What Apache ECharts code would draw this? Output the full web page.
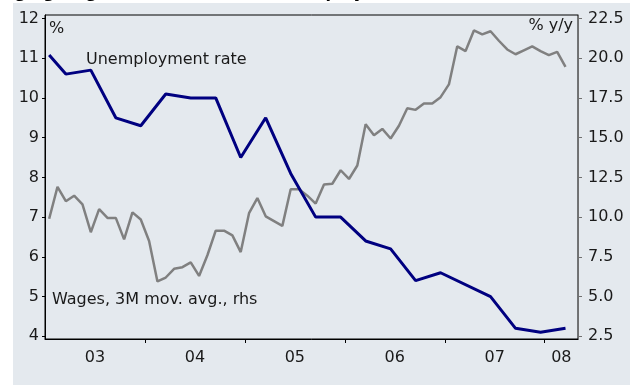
<!DOCTYPE html>
<html>
<head>
<meta charset="utf-8">
<script src="https://cdn.jsdelivr.net/npm/echarts@6/dist/echarts.min.js"></script>
<style>
  html, body { margin: 0; padding: 0; background: #ffffff; }
  #chart { width: 630px; height: 385px; }
</style>
</head>
<body>
<div id="chart"></div>
<script>
// Wages, 3M moving average, % y/y — monthly from Jan 2003 (right axis)
const wageValues = [
  9.9, 11.9, 11.0, 11.35, 10.8, 9.05, 10.5, 9.95, 9.95, 8.6,
  10.3, 9.85, 8.5, 5.95, 6.2, 6.75, 6.85, 7.15, 6.3, 7.6,
  9.15, 9.15, 8.85, 7.8, 10.25, 11.2, 10.05, 9.75, 9.45, 11.75,
  11.75, 11.35, 10.85, 12.05, 12.1, 12.95, 12.4, 13.25, 15.85, 15.15,
  15.55, 14.95, 15.75, 16.85, 16.75, 17.15, 17.15, 17.55, 18.35, 20.75,
  20.45, 21.75, 21.5, 21.7, 21.1, 20.55, 20.25, 20.5, 20.75, 20.45,
  20.2, 20.4, 19.45
];

// Unemployment rate, % — month index counted from Jan 2003
const unempMonths = [0, 2, 5, 8, 11, 14, 17, 20, 23, 26, 29, 32, 35, 38, 41, 44, 47, 53, 56, 59, 62];
const unempRate   = [11.08, 10.6, 10.7, 9.5, 9.3, 10.1, 10.0, 10.0, 8.5, 9.5, 8.1, 7.0, 7.0, 6.4, 6.2, 5.4, 5.6, 5.0, 4.2, 4.1, 4.2];

// Axis ticks and labels
const yearStarts   = [12, 24, 36, 48, 60];
const yearLabelPos = [6, 18, 30, 42, 54, 62];
const yearLabels   = ['03', '04', '05', '06', '07', '08'];
const leftTicks    = [4, 5, 6, 7, 8, 9, 10, 11, 12];
const rightTicks   = [2.5, 5, 7.5, 10, 12.5, 15, 17.5, 20, 22.5];

const FONT = '"DejaVu Sans", Verdana, sans-serif';
const chart = echarts.init(document.getElementById('chart'), null, { renderer: 'canvas' });

const option = {
  animation: false,
  backgroundColor: '#ffffff',
  textStyle: { fontFamily: FONT },
  grid: {
    left: 45, right: 52, top: 15, bottom: 46,
    show: true, borderColor: '#000000', borderWidth: 1, backgroundColor: 'transparent'
  },
  xAxis: [{
    type: 'value', min: 0, max: 64,
    axisLine: { show: true, lineStyle: { color: '#000000', width: 1 } },
    axisTick: { show: true, customValues: yearStarts, length: 4, lineStyle: { color: '#000000' } },
    axisLabel: {
      customValues: yearLabelPos, margin: 11, fontSize: 16, color: '#1a1a1a', fontFamily: FONT,
      formatter: v => yearLabels[yearLabelPos.indexOf(v)] || ''
    },
    splitLine: { show: false }
  }],
  yAxis: [{
    type: 'value', position: 'left', min: 3.932, max: 12.088,
    axisLine: { show: true, lineStyle: { color: '#000000', width: 1 } },
    axisTick: { show: true, customValues: leftTicks, length: 3, lineStyle: { color: '#000000' } },
    axisLabel: { customValues: leftTicks, margin: 6, fontSize: 16, color: '#1a1a1a', fontFamily: FONT },
    splitLine: { show: false }
  }, {
    type: 'value', position: 'right', min: 2.33, max: 22.72,
    axisLine: { show: true, lineStyle: { color: '#707070', width: 1 } },
    axisTick: { show: true, customValues: rightTicks, length: 4, lineStyle: { color: '#707070' } },
    axisLabel: {
      customValues: rightTicks, margin: 10, fontSize: 16, color: '#1a1a1a', fontFamily: FONT,
      formatter: v => v.toFixed(1)
    },
    splitLine: { show: false }
  }],
  series: [{
    name: 'Wages, 3M mov. avg., rhs',
    type: 'line', yAxisIndex: 1, symbol: 'none',
    lineStyle: { color: '#808080', width: 2.5 },
    data: wageValues.map((v, i) => [i + 0.5, v])
  }, {
    name: 'Unemployment rate',
    type: 'line', yAxisIndex: 0, symbol: 'none',
    lineStyle: { color: '#000080', width: 3 },
    data: unempMonths.map((m, k) => [m + 0.5, unempRate[k]])
  }],
  graphic: [
    {
      type: 'text', z: -10,
      style: {
        text: 'Surging wages amid record-low unemployment',
        x: -16, y: -6.5, verticalAlign: 'middle',
        font: 'bold 16px "DejaVu Sans"', fill: '#000000'
      }
    },
    {
      type: 'rect', z: -5,
      shape: { x: 13, y: 3, width: 617, height: 382 },
      style: { fill: '#e4e9ee' }
    },
    {
      type: 'text', z: 10,
      style: { text: '%', x: 49, y: 29, verticalAlign: 'middle', font: '16px ' + FONT, fill: '#1a1a1a' }
    },
    {
      type: 'text', z: 10,
      style: { text: '% y/y', x: 573, y: 26, align: 'right', verticalAlign: 'middle', font: '16px ' + FONT, fill: '#1a1a1a' }
    },
    {
      type: 'text', z: 10,
      style: { text: 'Unemployment rate', x: 86, y: 60, verticalAlign: 'middle', font: '16px ' + FONT, fill: '#1a1a1a' }
    },
    {
      type: 'text', z: 10,
      style: { text: 'Wages, 3M mov. avg., rhs', x: 52, y: 300, verticalAlign: 'middle', font: '16px ' + FONT, fill: '#1a1a1a' }
    }
  ]
};

chart.setOption(option);
</script>
</body>
</html>
